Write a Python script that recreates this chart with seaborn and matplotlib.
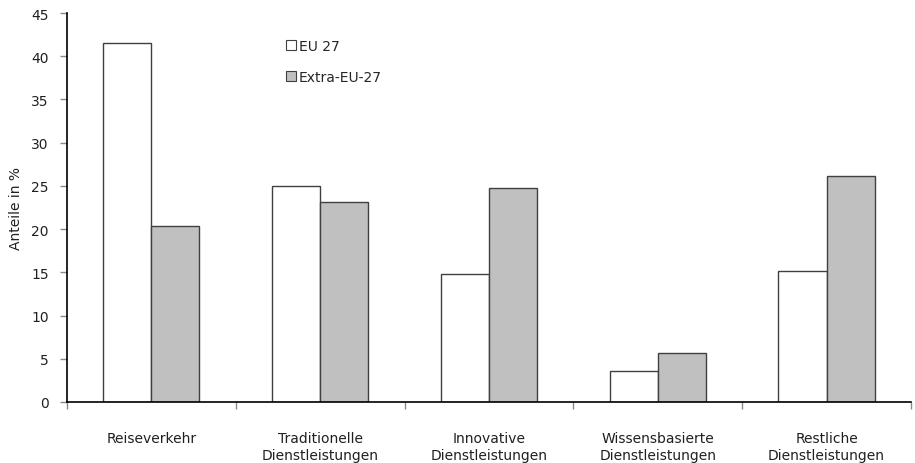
import numpy as np
import pandas as pd
import seaborn as sns
import matplotlib.pyplot as plt
from matplotlib.patches import Patch

categories = ['Reiseverkehr', 'Traditionelle\nDienstleistungen', 'Innovative\nDienstleistungen',
              'Wissensbasierte\nDienstleistungen', 'Restliche\nDienstleistungen']
eu27 = [41.5, 25.0, 14.8, 3.6, 15.1]
extra_eu27 = [20.4, 23.1, 24.7, 5.7, 26.1]
series = ['EU 27', 'Extra-EU-27']
colors = ['#ffffff', '#c0c0c0']

df = pd.DataFrame({'Kategorie': categories * 2,
                   'Region': [series[0]] * 5 + [series[1]] * 5,
                   'Anteil': eu27 + extra_eu27})

sns.set_style('white')
plt.rcParams['font.family'] = ['DejaVu Sans']
fs = 10

fig = plt.figure(figsize=(9.15, 4.64), dpi=100)
ax = fig.add_axes([0.0732, 0.1315, 0.9224, 0.8383])

sns.barplot(data=df, x='Kategorie', y='Anteil', hue='Region', order=categories,
            hue_order=series, palette=colors, width=0.57, edgecolor='#404040',
            linewidth=1.0, ax=ax, legend=False)

ax.set_xlim(-0.5, 4.5)
ax.set_ylim(0, 45)
ax.set_yticks(np.arange(0, 46, 5))
ax.set_xticks(np.arange(-0.5, 4.6, 1))
ax.set_xticklabels([])
ax.set_xticks(range(5), minor=True)
ax.set_xticklabels(categories, minor=True, linespacing=1.3)
ax.tick_params(axis='x', which='minor', length=0, pad=21)
ax.tick_params(axis='x', which='major', direction='out', length=5, width=1, bottom=True)
ax.tick_params(axis='y', direction='out', length=5, width=1, left=True, pad=8)
ax.tick_params(which='both', labelsize=fs, labelcolor='#202020', color='#8a8a8a')
ax.set_xlabel('')
ax.set_ylabel('Anteile in %', fontsize=fs, labelpad=6, color='#202020')
for s in ['top', 'right']:
    ax.spines[s].set_visible(False)
for s in ['left', 'bottom']:
    ax.spines[s].set_color('black')
    ax.spines[s].set_linewidth(1.2)

handles = [Patch(facecolor=c, edgecolor='#404040', linewidth=0.8) for c in colors]
ax.legend(handles, series, loc='upper left', bbox_to_anchor=(0.245, 0.965), frameon=False,
          handlelength=0.7, handleheight=0.7, handletextpad=0.2, labelspacing=1.2,
          fontsize=fs)

fig.savefig('out.png', dpi=100)
